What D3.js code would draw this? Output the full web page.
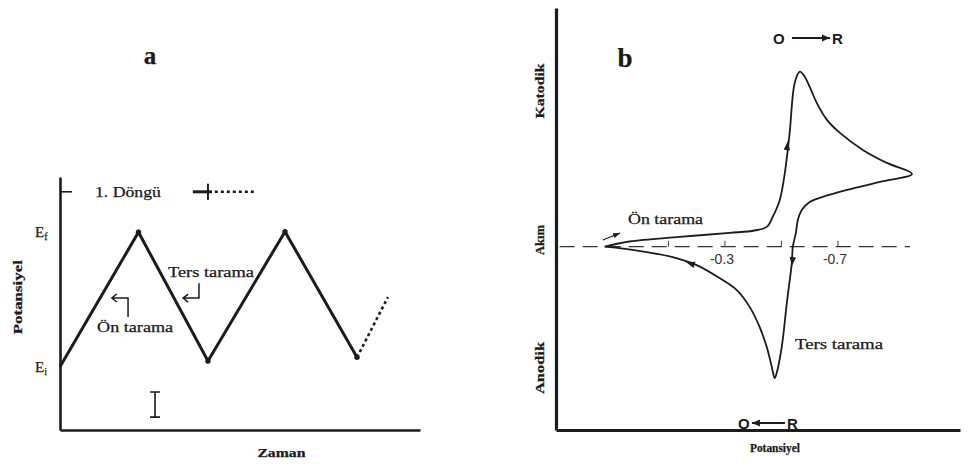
<!DOCTYPE html>
<html><head><meta charset="utf-8">
<script src="https://cdn.jsdelivr.net/npm/d3@7"></script>
<style>
body{margin:0;background:#fff}
svg{display:block}
text{font-family:"Liberation Serif","Times New Roman",serif;fill:#1a1a1a;stroke:#1a1a1a;stroke-width:0.25}
</style>
</head><body>
<svg id="c" width="968" height="467"></svg>
<script>
// ---------- DATA ----------
// Panel a: triangular potential sweep (time, potential with Ei = 0, Ef = 1)
const sweepTime = [0, 2.18, 4.11, 6.25, 8.25];
const sweepPotential = [0, 1.0, 0.043, 1.004, 0.07];
const sweepNextTime = [8.25, 9.11];
const sweepNextPotential = [0.07, 0.518];
const potentialTickValues = [1, 0];
const potentialTickMain = ["E", "E"];
const potentialTickSub = ["f", "i"];

// Panel b: cyclic voltammogram (potential V, current)
const cvForwardE = [0.126, 0.038, -0.140, -0.317, -0.405, -0.448, -0.469, -0.494, -0.512, -0.529, -0.547, -0.565, -0.583, -0.600, -0.625, -0.661, -0.707, -0.788, -0.873, -0.962];
const cvForwardI = [0, 0.26, 0.49, 0.69, 0.81, 0.99, 1.49, 2.34, 3.69, 5.69, 8.19, 8.75, 8.49, 7.99, 7.19, 6.34, 5.69, 4.84, 4.19, 3.64];
const cvReverseE = [-0.962, -0.849, -0.732, -0.646, -0.600, -0.572, -0.558, -0.551, -0.540, -0.537, -0.519, -0.501, -0.483, -0.476, -0.466, -0.448, -0.423, -0.388, -0.342, -0.281, -0.200, -0.115, -0.023, 0.073, 0.126];
const cvReverseI = [3.64, 3.24, 2.84, 2.49, 2.24, 1.84, 1.34, 0.69, -0.02, -0.77, -2.82, -5.02, -6.32, -6.57, -6.02, -5.02, -4.02, -3.02, -2.17, -1.57, -0.92, -0.52, -0.27, -0.07, 0];
const cvTickValues = [-0.1, -0.3, -0.5, -0.7];
const cvTickLabels = ["", "-0.3", "", "-0.7"];

// ---------- DRAW ----------
const svg = d3.select("#c");
svg.append("rect").attr("width", 968).attr("height", 467).attr("fill", "#fff");
const ink = "#1c1c1c";

// ===== Panel a =====
const xA = d3.scaleLinear().domain([0, 10]).range([60, 420]);
const yA = d3.scaleLinear().domain([-0.47, 1.41]).range([430, 177]);
const gA = svg.append("g");

gA.append("g").attr("transform", `translate(${xA(0)},0)`)
  .call(d3.axisLeft(yA).tickValues([]).tickSizeOuter(0));
gA.append("g").attr("transform", `translate(0,${yA(-0.47)})`)
  .call(d3.axisBottom(xA).tickValues([]).tickSizeOuter(0));
gA.selectAll(".domain").attr("stroke", ink).attr("stroke-width", 2.6);

// top tick inside axis
gA.append("line").attr("x1", xA(0)).attr("x2", xA(0) + 12)
  .attr("y1", yA(1.30)).attr("y2", yA(1.30)).attr("stroke", ink).attr("stroke-width", 1.6);

// E labels
potentialTickValues.forEach((v, i) => {
  const t = gA.append("text").attr("x", xA(0) - 25).attr("y", yA(v) + 5)
    .attr("font-size", 15);
  t.append("tspan").text(potentialTickMain[i]);
  t.append("tspan").attr("dy", 3).attr("font-size", 10).text(potentialTickSub[i]);
});

// wave
const sweepPts = sweepTime.map((t, i) => [t, sweepPotential[i]]);
const lineA = d3.line().x(d => xA(d[0])).y(d => yA(d[1]));
gA.append("path").attr("d", lineA(sweepPts)).attr("fill", "none")
  .attr("stroke", ink).attr("stroke-width", 3).attr("stroke-linejoin", "miter");
gA.selectAll("circle.v").data(sweepPts.slice(1)).join("circle").attr("class", "v")
  .attr("cx", d => xA(d[0])).attr("cy", d => yA(d[1])).attr("r", 2.7).attr("fill", ink);
const nextPts = sweepNextTime.map((t, i) => [t, sweepNextPotential[i]]);
gA.append("path").attr("d", lineA(nextPts)).attr("fill", "none")
  .attr("stroke", ink).attr("stroke-width", 2.6).attr("stroke-dasharray", "3,3");

// legend "1. Döngü"
gA.append("text").attr("x", xA(0.97)).attr("y", yA(1.30) + 5).attr("font-size", 14)
  .attr("textLength", 66).attr("lengthAdjust", "spacingAndGlyphs").text("1. Döngü");
gA.append("line").attr("x1", xA(3.69)).attr("x2", xA(4.22)).attr("y1", yA(1.30)).attr("y2", yA(1.30))
  .attr("stroke", ink).attr("stroke-width", 3);
gA.append("line").attr("x1", xA(4.11)).attr("x2", xA(4.11)).attr("y1", yA(1.36)).attr("y2", yA(1.24))
  .attr("stroke", ink).attr("stroke-width", 2);
gA.append("line").attr("x1", xA(4.30)).attr("x2", xA(5.42)).attr("y1", yA(1.30)).attr("y2", yA(1.30))
  .attr("stroke", ink).attr("stroke-width", 2.6).attr("stroke-dasharray", "3,3");

// annotations
gA.append("text").attr("x", xA(3.0)).attr("y", yA(0.667)).attr("font-size", 14)
  .attr("textLength", 86).attr("lengthAdjust", "spacingAndGlyphs").text("Ters tarama");
gA.append("text").attr("x", xA(1.03)).attr("y", yA(0.258)).attr("font-size", 14)
  .attr("textLength", 76).attr("lengthAdjust", "spacingAndGlyphs").text("Ön tarama");

// ↰ arrow
gA.append("path").attr("d",
  `M${xA(1.89)},${yA(0.37)} L${xA(1.89)},${yA(0.511)} L${xA(1.44)},${yA(0.511)}` +
  ` M${xA(1.44) + 5},${yA(0.511) - 4} L${xA(1.44)},${yA(0.511)} L${xA(1.44) + 5},${yA(0.511) + 4}`)
  .attr("fill", "none").attr("stroke", ink).attr("stroke-width", 1.5);
// ↲ arrow
gA.append("path").attr("d",
  `M${xA(3.86)},${yA(0.62)} L${xA(3.86)},${yA(0.51)} L${xA(3.42)},${yA(0.51)}` +
  ` M${xA(3.42) + 5},${yA(0.51) - 4} L${xA(3.42)},${yA(0.51)} L${xA(3.42) + 5},${yA(0.51) + 4}`)
  .attr("fill", "none").attr("stroke", ink).attr("stroke-width", 1.5);

// I-beam
const ibx = xA(2.64);
gA.append("path").attr("d",
  `M${ibx},${yA(-0.188)} L${ibx},${yA(-0.374)} M${ibx - 5},${yA(-0.188)} L${ibx + 5},${yA(-0.188)} M${ibx - 5},${yA(-0.374)} L${ibx + 5},${yA(-0.374)}`)
  .attr("stroke", ink).attr("stroke-width", 1.6).attr("fill", "none");

// axis titles
gA.append("text").attr("x", xA(6.15)).attr("y", 457).attr("font-size", 12).attr("font-weight", "bold")
  .attr("text-anchor", "middle").attr("textLength", 48).attr("lengthAdjust", "spacingAndGlyphs").text("Zaman");
gA.append("text").attr("transform", `translate(22,${yA(0.517)}) rotate(-90)`).attr("font-size", 12).attr("font-weight", "bold")
  .attr("text-anchor", "middle").attr("textLength", 74).attr("lengthAdjust", "spacingAndGlyphs").text("Potansiyel");
gA.append("text").attr("x", 150).attr("y", 64).attr("font-size", 25).attr("font-weight", "bold")
  .attr("text-anchor", "middle").text("a");

// ===== Panel b =====
const xB = d3.scaleLinear().domain([0.298, -1.132]).range([556, 960]);
const yB = d3.scaleLinear().domain([-9.165, 11.935]).range([430, 8]);
const gB = svg.append("g");

gB.append("g").attr("transform", `translate(${xB(0.298)},0)`)
  .call(d3.axisLeft(yB).tickValues([]).tickSizeOuter(0));
gB.append("g").attr("transform", `translate(0,${yB(-9.165)})`)
  .call(d3.axisBottom(xB).tickValues([]).tickSizeOuter(0));
gB.selectAll(".domain").attr("stroke", ink).attr("stroke-width", 3.2);

// zero baseline (dashed)
gB.append("line").attr("x1", xB(0.285)).attr("x2", xB(-0.955)).attr("y1", yB(0)).attr("y2", yB(0))
  .attr("stroke", "#333").attr("stroke-width", 1.3).attr("stroke-dasharray", "15,8");
cvTickValues.forEach((v, i) => {
  gB.append("line").attr("x1", xB(v)).attr("x2", xB(v)).attr("y1", yB(0) - 6).attr("y2", yB(0))
    .attr("stroke", "#444").attr("stroke-width", 1);
  if (cvTickLabels[i]) {
    gB.append("text").attr("x", xB(v) - 3).attr("y", yB(0) + 17).attr("text-anchor", "middle")
      .attr("font-size", 14).style("fill", "#333").style("stroke", "none")
      .style("font-family", "'Liberation Sans', Arial, sans-serif").text(cvTickLabels[i]);
  }
});

// CV curve
const cvPts = cvForwardE.map((e, i) => [e, cvForwardI[i]])
  .concat(cvReverseE.slice(1).map((e, i) => [e, cvReverseI[i + 1]]));
const lineB = d3.line().x(d => xB(d[0])).y(d => yB(d[1])).curve(d3.curveCatmullRom.alpha(0.5));
gB.append("path").attr("d", lineB(cvPts)).attr("fill", "none")
  .attr("stroke", ink).attr("stroke-width", 1.8);

// arrowheads on curve
function head(x, y, ang, L = 9, w = 3.2) {
  gB.append("path").attr("d", `M0,0 L${-L},${-w} L${-L},${w} Z`)
    .attr("transform", `translate(${x},${y}) rotate(${ang})`).attr("fill", ink);
}
head(xB(-0.523), yB(5.08) - 4, -83);
head(xB(-0.537), yB(-0.77) + 4, 96);
head(xB(-0.176) - 4, yB(-0.77), 198);
// small forward-scan arrow
gB.append("line").attr("x1", xB(0.132)).attr("y1", yB(0.335)).attr("x2", xB(0.071)).attr("y2", yB(0.685))
  .attr("stroke", ink).attr("stroke-width", 1.3);
head(xB(0.071), yB(0.685), -22, 7, 2.6);

// annotations
gB.append("text").attr("x", xB(0.043)).attr("y", yB(1.135)).attr("font-size", 14)
  .attr("textLength", 75).attr("lengthAdjust", "spacingAndGlyphs").text("Ön tarama");
gB.append("text").attr("x", xB(-0.548)).attr("y", yB(-5.115)).attr("font-size", 14)
  .attr("textLength", 88).attr("lengthAdjust", "spacingAndGlyphs").text("Ters tarama");

// O -> R (top) and O <- R (bottom)
function redox(E, I, dir, rX) {
  const g = gB.append("g").attr("transform", `translate(${xB(E)},${yB(I)})`);
  g.append("text").attr("x", 0).attr("y", 5.5).attr("font-size", 15).attr("font-weight", "bold")
    .style("font-family", "'Liberation Sans', Arial, sans-serif").style("stroke", "none").text("O");
  g.append("text").attr("x", rX).attr("y", 5.5).attr("font-size", 15).attr("font-weight", "bold")
    .style("font-family", "'Liberation Sans', Arial, sans-serif").style("stroke", "none").text("R");
  const a0 = dir > 0 ? 19 : rX - 2, a1 = dir > 0 ? rX - 2 : 14;
  g.append("line").attr("x1", a0).attr("x2", a1).attr("y1", 0).attr("y2", 0)
    .attr("stroke", ink).attr("stroke-width", 2);
  g.append("path").attr("d", `M0,0 L-8,-3.5 L-8,3.5 Z`)
    .attr("transform", `translate(${a1},0) rotate(${dir > 0 ? 0 : 180})`).attr("fill", ink);
}
redox(-0.47, 10.43, 1, 59);
redox(-0.346, -8.815, -1, 49);

// axis titles
gB.append("text").attr("x", xB(-0.477)).attr("y", 452).attr("font-size", 12).attr("font-weight", "bold")
  .attr("text-anchor", "middle").attr("textLength", 50).attr("lengthAdjust", "spacingAndGlyphs").text("Potansiyel");
[["Katodik", 7.785, 55], ["Akım", 0.335, 30], ["Anodik", -6.065, 52]].forEach(([s, v, L]) => {
  gB.append("text").attr("transform", `translate(${xB(0.298) - 12},${yB(v)}) rotate(-90)`)
    .attr("font-size", 12).attr("font-weight", "bold").attr("text-anchor", "middle")
    .attr("textLength", L).attr("lengthAdjust", "spacingAndGlyphs").text(s);
});
gB.append("text").attr("x", 625).attr("y", 67).attr("font-size", 27).attr("font-weight", "bold")
  .attr("text-anchor", "middle").text("b");
</script>
</body></html>
